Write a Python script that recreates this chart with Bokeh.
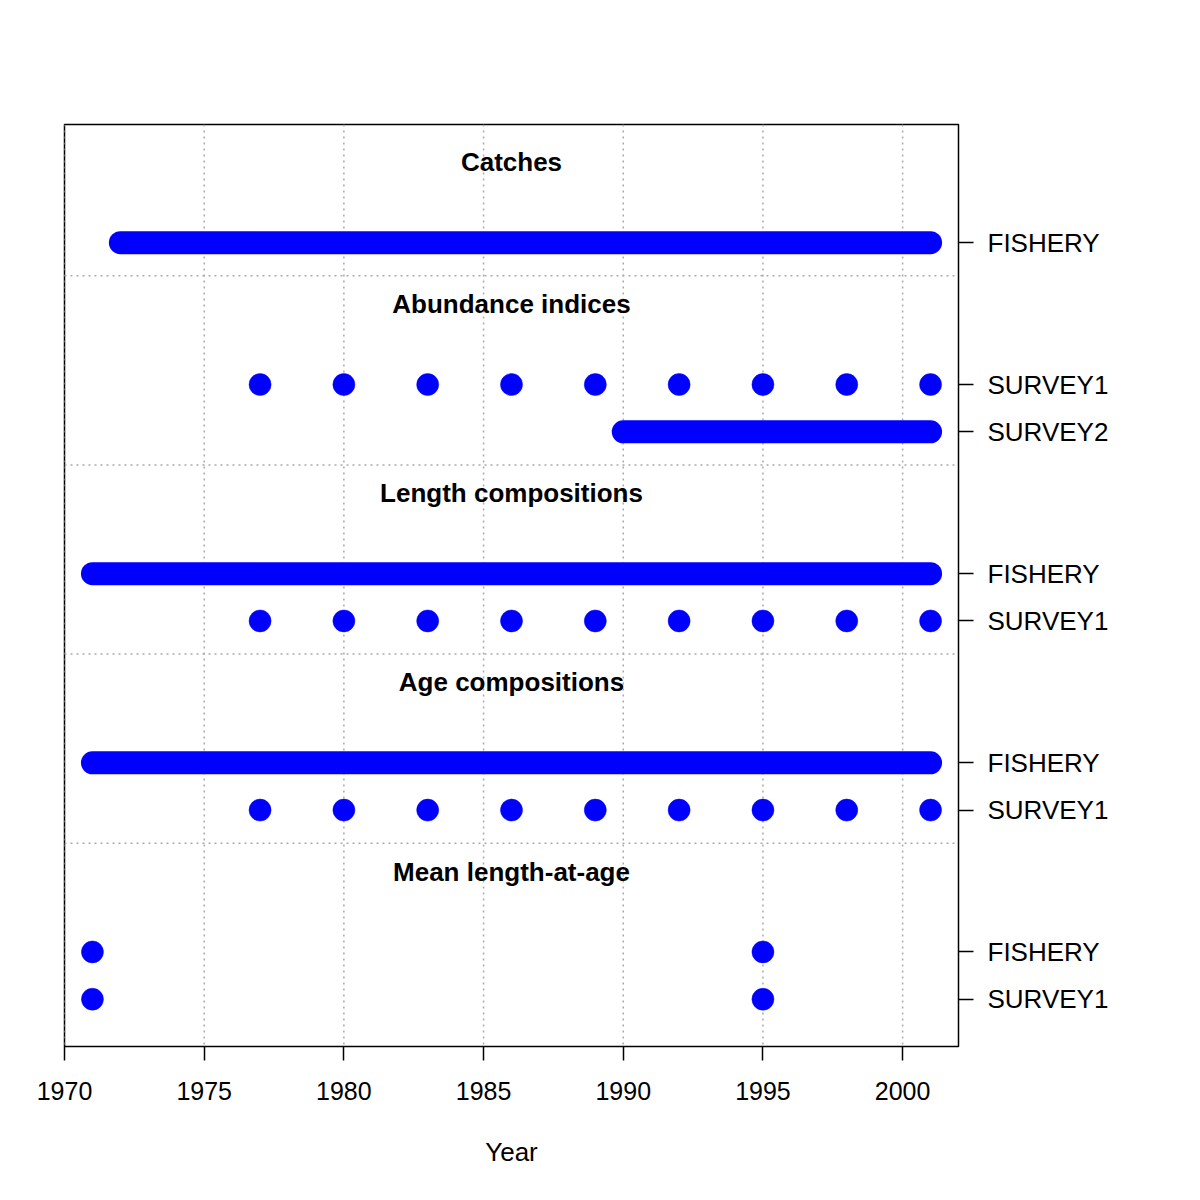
from bokeh.plotting import figure
from bokeh.models import Range1d, LinearAxis, FixedTicker, Span
from bokeh.core.properties import value
from bokeh.embed import file_html
from bokeh.resources import INLINE

# ---------------- data ----------------
section_titles = ["Catches", "Abundance indices", "Length compositions",
                  "Age compositions", "Mean length-at-age"]

catch_fishery = [1972, 1973, 1974, 1975, 1976, 1977, 1978, 1979, 1980, 1981,
                 1982, 1983, 1984, 1985, 1986, 1987, 1988, 1989, 1990, 1991,
                 1992, 1993, 1994, 1995, 1996, 1997, 1998, 1999, 2000, 2001]
index_survey1 = [1977, 1980, 1983, 1986, 1989, 1992, 1995, 1998, 2001]
index_survey2 = [1990, 1991, 1992, 1993, 1994, 1995, 1996, 1997, 1998, 1999,
                 2000, 2001]
length_fishery = [1971, 1972, 1973, 1974, 1975, 1976, 1977, 1978, 1979, 1980,
                  1981, 1982, 1983, 1984, 1985, 1986, 1987, 1988, 1989, 1990,
                  1991, 1992, 1993, 1994, 1995, 1996, 1997, 1998, 1999, 2000,
                  2001]
length_survey1 = [1977, 1980, 1983, 1986, 1989, 1992, 1995, 1998, 2001]
age_fishery = [1971, 1972, 1973, 1974, 1975, 1976, 1977, 1978, 1979, 1980,
               1981, 1982, 1983, 1984, 1985, 1986, 1987, 1988, 1989, 1990,
               1991, 1992, 1993, 1994, 1995, 1996, 1997, 1998, 1999, 2000,
               2001]
age_survey1 = [1977, 1980, 1983, 1986, 1989, 1992, 1995, 1998, 2001]
mla_fishery = [1971, 1995]
mla_survey1 = [1971, 1995]

# sections: (title, [(fleet label, years), ...]) top to bottom
sections = [
    (section_titles[0], [("FISHERY", catch_fishery)]),
    (section_titles[1], [("SURVEY1", index_survey1), ("SURVEY2", index_survey2)]),
    (section_titles[2], [("FISHERY", length_fishery), ("SURVEY1", length_survey1)]),
    (section_titles[3], [("FISHERY", age_fishery), ("SURVEY1", age_survey1)]),
    (section_titles[4], [("FISHERY", mla_fishery), ("SURVEY1", mla_survey1)]),
]

x_ticks = [1970, 1975, 1980, 1985, 1990, 1995, 2000]
x_min, x_max = 1970, 2002

# ---------------- layout of rows ----------------
row_y = {}
ticks_y = []
tick_labels = {}
title_pos = []
sep_pos = []
y = 0
for si in range(len(sections) - 1, -1, -1):
    title, fleets = sections[si]
    ys = []
    for fi in range(len(fleets) - 1, -1, -1):
        label, years = fleets[fi]
        row_y[(si, fi)] = y
        ticks_y.append(y)
        tick_labels[y] = label
        ys.append(y)
        y += 1
    top = max(ys)
    title_pos.append((title, top + 1.7))
    if si > 0:
        sep_pos.append(top + 2.3)
    y = top + 3

y_min, y_max = -1.0, 18.5

p = figure(frame_width=894, frame_height=922,
           x_range=Range1d(x_min, x_max), y_range=Range1d(y_min, y_max),
           output_backend="svg", toolbar_location=None,
           min_border_left=64, min_border_right=234,
           min_border_top=124, min_border_bottom=146,
           x_axis_location=None, y_axis_location=None)

p.outline_line_color = "black"
p.outline_line_width = 1.5
p.outline_line_alpha = 1.0
p.background_fill_color = "white"
p.border_fill_color = "white"

# grid
p.xgrid.visible = False
p.ygrid.visible = False
for xt in x_ticks:
    p.add_layout(Span(location=xt, dimension="height", line_color="#aaaaaa",
                      line_dash="2 4", line_width=1.5, level="underlay"))
for sy in sep_pos:
    p.add_layout(Span(location=sy, dimension="width", line_color="#aaaaaa",
                      line_dash="2 4", line_width=1.5, level="underlay"))

BLUE = "#0000ff"

# data marks
for si, (title, fleets) in enumerate(sections):
    for fi, (label, years) in enumerate(fleets):
        yy = row_y[(si, fi)]
        ys_sorted = sorted(years)
        runs = []
        start = prev = ys_sorted[0]
        for yr in ys_sorted[1:]:
            if yr == prev + 1:
                prev = yr
            else:
                runs.append((start, prev))
                start = prev = yr
        runs.append((start, prev))
        seg_x0 = [a for a, b in runs if b > a]
        seg_x1 = [b for a, b in runs if b > a]
        pts = [a for a, b in runs if b == a]
        if seg_x0:
            p.segment(x0=seg_x0, x1=seg_x1, y0=[yy] * len(seg_x0), y1=[yy] * len(seg_x0),
                      line_color=BLUE, line_width=23, line_cap="round")
        if pts:
            p.scatter(x=pts, y=[yy] * len(pts), size=22, fill_color=BLUE,
                      line_color=BLUE, line_width=0.5)

# section titles
p.text(x=[(x_min + x_max) / 2] * len(title_pos), y=[t[1] for t in title_pos],
       text=[t[0] for t in title_pos], text_align="center", text_baseline="middle",
       text_font=value("Liberation Sans"), text_font_style="bold",
       text_font_size="26px", text_color="black")

# right axis with fleet labels
ry = LinearAxis(ticker=FixedTicker(ticks=ticks_y),
                major_label_overrides={t: tick_labels[t] for t in ticks_y})
ry.axis_line_color = None
ry.major_tick_out = 15
ry.major_tick_in = 0
ry.major_tick_line_width = 1.5
ry.minor_tick_line_color = None
ry.major_label_standoff = 14
ry.major_label_text_font = "Liberation Sans"
ry.major_label_text_font_size = "26px"
ry.major_label_text_color = "black"
p.add_layout(ry, "right")

# bottom axis
bx = LinearAxis(ticker=FixedTicker(ticks=x_ticks), axis_label="Year")
bx.axis_line_color = None
bx.major_tick_out = 14
bx.major_tick_in = 0
bx.major_tick_line_width = 1.5
bx.minor_tick_line_color = None
bx.major_label_standoff = 21
bx.major_label_text_font = "Liberation Sans"
bx.major_label_text_font_size = "25px"
bx.major_label_text_color = "black"
bx.axis_label_text_font = "Liberation Sans"
bx.axis_label_text_font_size = "26px"
bx.axis_label_text_font_style = "normal"
bx.axis_label_text_color = "black"
bx.axis_label_standoff = 34
p.add_layout(bx, "below")

open("out.html", "w").write(file_html(p, INLINE))
